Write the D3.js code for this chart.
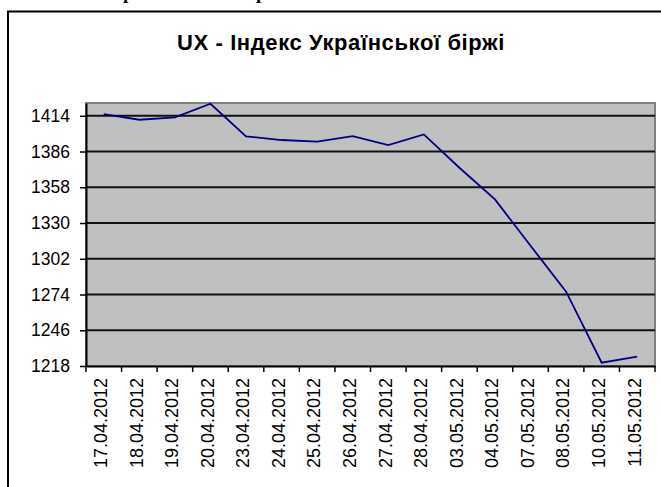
<!DOCTYPE html>
<html>
<head>
<meta charset="utf-8">
<script src="https://cdn.jsdelivr.net/npm/d3@7"></script>
<style>
  body { margin: 0; background: #fff; }
  svg { display: block; }
</style>
</head>
<body>
<div id="chart"></div>
<script>
// data
var dates = ["17.04.2012", "18.04.2012", "19.04.2012", "20.04.2012", "23.04.2012",
             "24.04.2012", "25.04.2012", "26.04.2012", "27.04.2012", "28.04.2012",
             "03.05.2012", "04.05.2012", "07.05.2012", "08.05.2012", "10.05.2012",
             "11.05.2012"];
var values = [1415.3, 1410.9, 1412.7, 1423.4, 1397.9, 1395.0, 1393.7, 1398.1,
              1391.1, 1399.4, 1373.3, 1348.5, 1312.2, 1276.2, 1220.6, 1225.3];
var yTicks = [1218, 1246, 1274, 1302, 1330, 1358, 1386, 1414];
var title = "UX - Індекс Української біржі";

var W = 661, H = 487;
var margin = {top: 103, right: 6, bottom: 121, left: 86},
    width = W - margin.left - margin.right,
    height = H - margin.top - margin.bottom;

var svg = d3.select("#chart")
  .append("svg")
    .attr("width", W)
    .attr("height", H);

// cut-off line of the document above the chart
svg.append("text")
    .attr("x", 123).attr("y", -1)
    .style("font-family", "'Liberation Serif', serif")
    .style("font-weight", "bold")
    .style("font-size", "19px")
    .text("р");
svg.append("text")
    .attr("x", 256).attr("y", -1)
    .style("font-family", "'Liberation Serif', serif")
    .style("font-weight", "bold")
    .style("font-size", "19px")
    .text("р");

// chart frame (runs off the right and bottom)
svg.append("rect")
    .attr("x", 8).attr("y", 11.5)
    .attr("width", 700).attr("height", 600)
    .attr("fill", "#fff")
    .attr("stroke", "#000")
    .attr("stroke-width", 2);

svg.append("text")
    .attr("x", 341).attr("y", 50)
    .attr("text-anchor", "middle")
    .style("font-family", "Arial, 'Liberation Sans', sans-serif")
    .style("font-weight", "bold")
    .style("font-size", "22px")
    .style("letter-spacing", "0.6px")
    .text(title);

var g = svg.append("g")
    .attr("transform", "translate(" + margin.left + "," + margin.top + ")");

var x = d3.scaleBand()
    .domain(dates)
    .range([0, width]);

var y = d3.scaleLinear()
    .domain([1218, 1424])
    .range([height, 0]);

// plot area
g.append("rect")
    .attr("width", width).attr("height", height)
    .attr("fill", "#c0c0c0")
    .attr("stroke", "#808080")
    .attr("stroke-width", 2);

// gridlines
g.selectAll(".grid")
  .data(yTicks.slice(1))
  .enter()
  .append("line")
    .attr("x1", 0).attr("x2", width)
    .attr("y1", function(d) { return y(d); })
    .attr("y2", function(d) { return y(d); })
    .attr("stroke", "#111")
    .attr("stroke-width", 2);

// Y axis
var yAxis = g.append("g")
    .call(d3.axisLeft(y).tickValues(yTicks).tickFormat(d3.format("d"))
      .tickSize(6).tickPadding(10).tickSizeOuter(0));
yAxis.select(".domain").attr("stroke", "#000").attr("stroke-width", 2);
yAxis.selectAll(".tick line").attr("stroke", "#000").attr("stroke-width", 1.5);
yAxis.selectAll("text")
    .style("font-family", "Arial, 'Liberation Sans', sans-serif")
    .style("font-size", "17.5px")
    .attr("fill", "#000");

// X axis, ticks between categories
var xAxis = g.append("g")
    .attr("transform", "translate(0," + height + ")")
    .call(d3.axisBottom(x).tickSize(0).tickPadding(12));
xAxis.select(".domain").attr("stroke", "#000").attr("stroke-width", 2);
xAxis.selectAll("text")
    .attr("transform", "rotate(-90)")
    .attr("x", -12)
    .attr("y", -3)
    .attr("dy", "0.35em")
    .style("text-anchor", "end")
    .style("font-family", "Arial, 'Liberation Sans', sans-serif")
    .style("font-size", "18px")
    .attr("fill", "#000");

var bounds = dates.map(function(d) { return x(d); }).concat([width]);
g.selectAll(".xtick")
  .data(bounds)
  .enter()
  .append("line")
    .attr("x1", function(d) { return d; })
    .attr("x2", function(d) { return d; })
    .attr("y1", height).attr("y2", height + 6)
    .attr("stroke", "#000")
    .attr("stroke-width", 1.5);

// the line
var line = d3.line()
    .x(function(d, i) { return x(dates[i]) + x.bandwidth() / 2; })
    .y(function(d) { return y(d); });

g.append("path")
    .datum(values)
    .attr("d", line)
    .attr("fill", "none")
    .attr("stroke", "#000080")
    .attr("stroke-width", 1.8);
</script>
</body>
</html>
